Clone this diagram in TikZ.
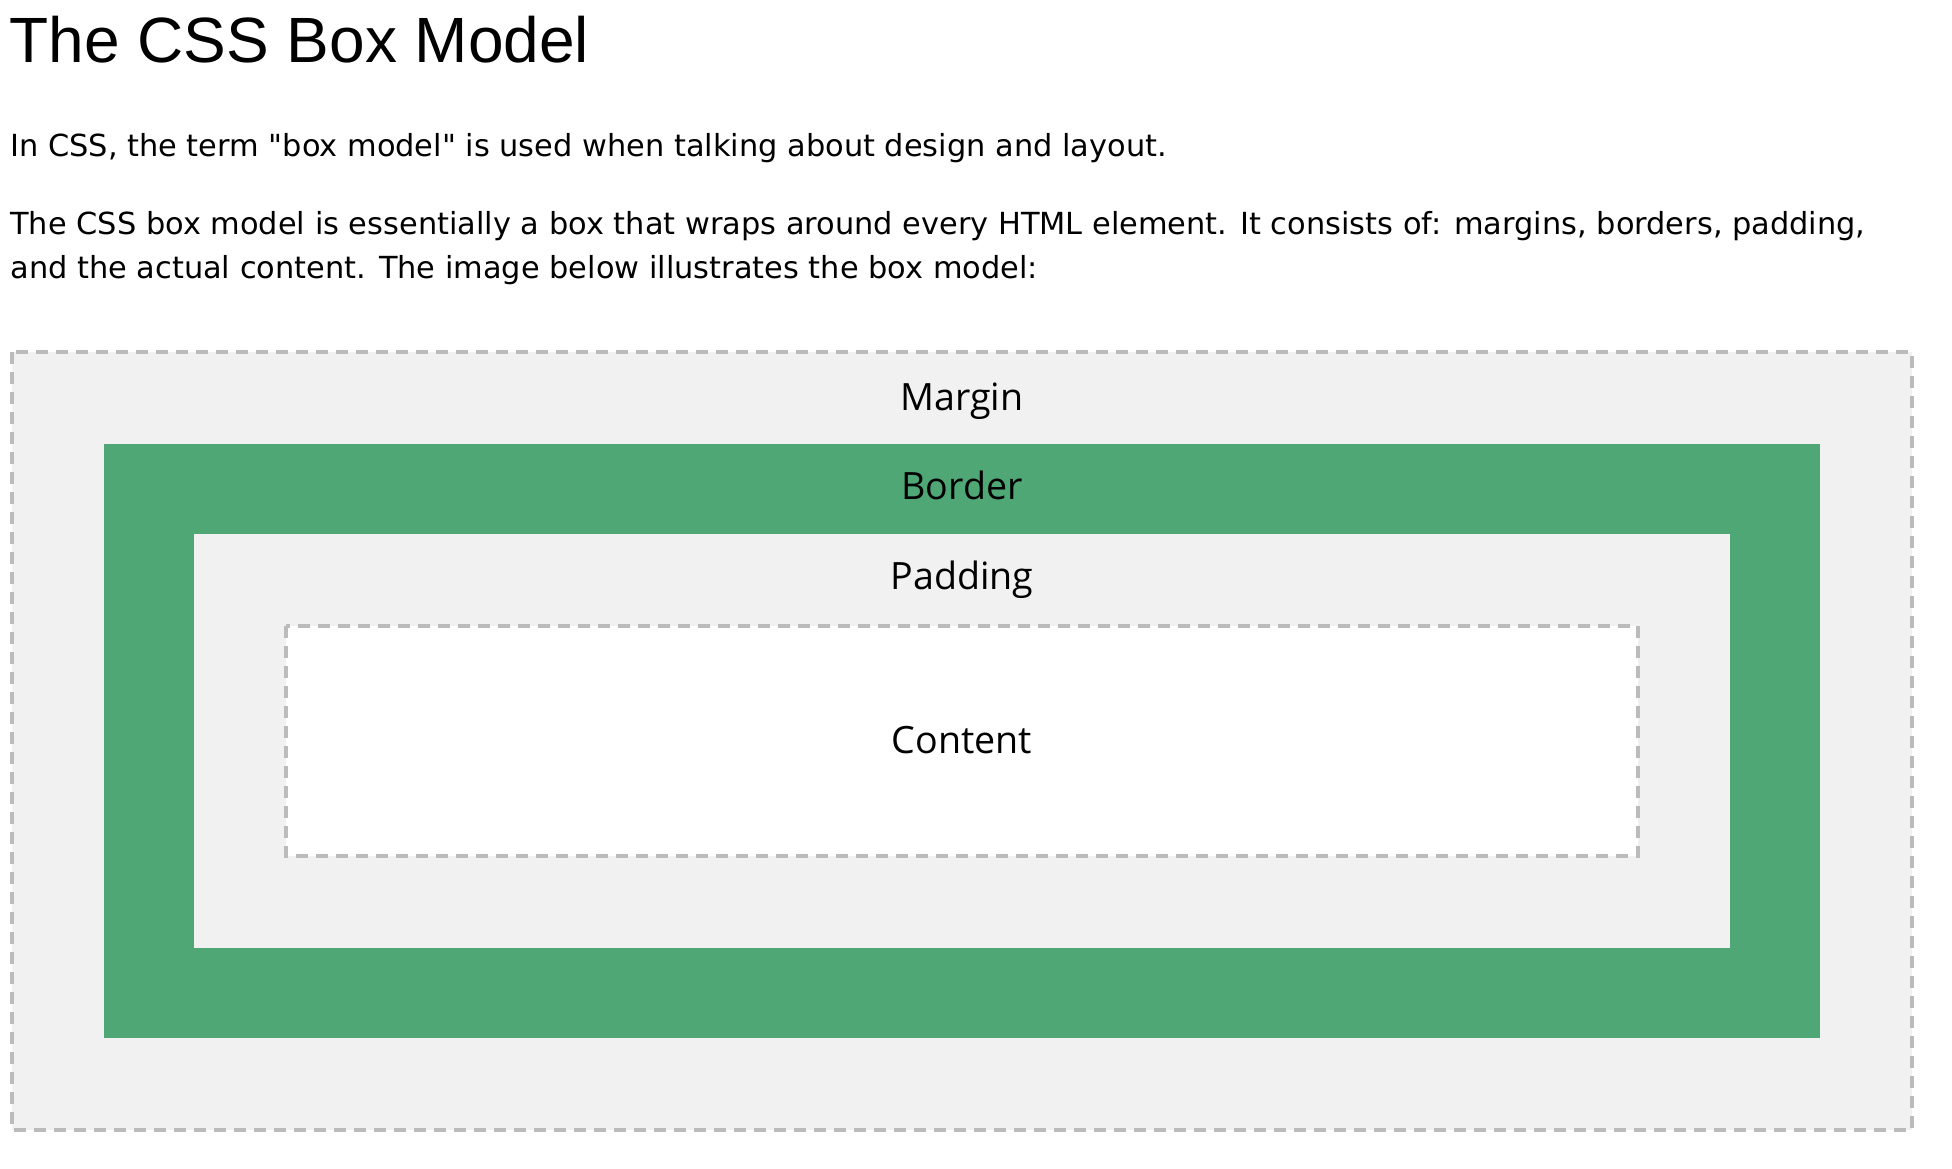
\documentclass[tikz,border=0pt]{standalone}
\usepackage{fontspec}
\setmainfont{Liberation Sans}
\newfontfamily\bodyfont{DejaVu Sans}
\newfontfamily\labfont{Open Sans}
\definecolor{marginbg}{HTML}{F1F1F1}
\definecolor{bordergreen}{HTML}{4EA775}
\definecolor{dashgray}{HTML}{BBBBBB}
\tikzset{
  titletext/.style={anchor=base west, inner sep=0pt, font=\fontsize{32}{38}\selectfont},
  bodytext/.style={anchor=base west, inner sep=0pt, font=\bodyfont\fontsize{15.2}{18}\selectfont},
  boxlabel/.style={anchor=base, inner sep=0pt, font=\labfont\fontsize{18.8}{22}\selectfont},
  dashbox/.style={draw=dashgray, line width=2pt, dash pattern=on 6pt off 4pt}
}
\begin{document}
\begin{tikzpicture}[x=0.5pt,y=-0.5pt]
\useasboundingbox[fill=white] (0,0) rectangle (1952,1168);
% text
\node[titletext] (title) at (9,62) {The CSS Box Model};
\node[bodytext] (p1) at (10,156) {In CSS, the term "box model" is used when talking about design and layout.};
\node[bodytext] (p2a) at (10,234) {The CSS box model is essentially a box that wraps around every HTML element. It consists of: margins, borders, padding,};
\node[bodytext] (p2b) at (10,278) {and the actual content. The image below illustrates the box model:};
% boxes
\path[fill=marginbg, dashbox] (12,352) rectangle (1912,1130);
\fill[bordergreen] (104,444) rectangle (1820,1038);
\fill[marginbg] (194,534) rectangle (1730,948);
\path[fill=white, dashbox] (286,626) rectangle (1638,856);
% labels
\node[boxlabel] (margin) at (962,410) {Margin};
\node[boxlabel] (border) at (962,499) {Border};
\node[boxlabel] (padding) at (962,589) {Padding};
\node[boxlabel] (content) at (962,753) {Content};
\end{tikzpicture}
\end{document}
